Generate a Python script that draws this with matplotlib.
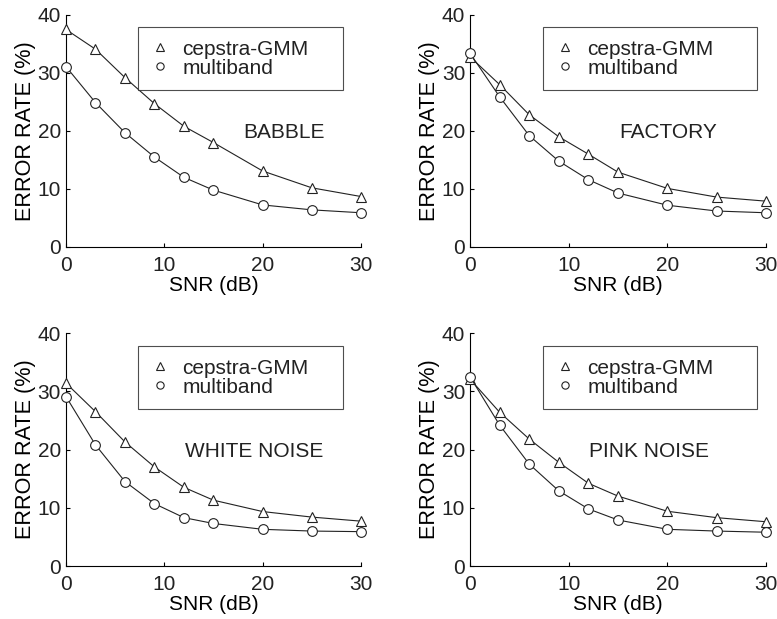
import matplotlib
matplotlib.use('Agg')
import matplotlib.pyplot as plt

# Valores
snr = [0, 3, 6, 9, 12, 15, 20, 25, 30]
babble_gmm = [37.5, 34.1, 29.2, 24.7, 20.8, 18.0, 13.1, 10.2, 8.7]
babble_mb = [31.1, 24.9, 19.7, 15.5, 12.0, 9.8, 7.25, 6.4, 5.9]
factory_gmm = [32.8, 28.0, 22.8, 19.0, 16.0, 12.9, 10.1, 8.6, 7.9]
factory_mb = [33.4, 25.9, 19.2, 14.8, 11.6, 9.3, 7.2, 6.2, 5.9]
white_gmm = [31.4, 26.5, 21.3, 17.0, 13.5, 11.3, 9.35, 8.4, 7.7]
white_mb = [29.1, 20.8, 14.5, 10.7, 8.3, 7.3, 6.3, 6.0, 5.9]
pink_gmm = [32.1, 26.4, 21.8, 17.8, 14.2, 12.0, 9.4, 8.3, 7.6]
pink_mb = [32.5, 24.2, 17.5, 12.9, 9.8, 7.9, 6.3, 6.0, 5.8]

titles = ['BABBLE', 'FACTORY', 'WHITE NOISE', 'PINK NOISE']
series = [(babble_gmm, babble_mb), (factory_gmm, factory_mb),
          (white_gmm, white_mb), (pink_gmm, pink_mb)]
labels = ['cepstra-GMM', 'multiband']
xticks = [0, 10, 20, 30]
yticks = [0, 10, 20, 30, 40]

plt.rcParams['font.family'] = ['Liberation Sans', 'DejaVu Sans']
plt.rcParams['text.color'] = '#222222'

fig = plt.figure(figsize=(7.77, 6.19), dpi=100)

# posições dos eixos (fração da figura)
positions = [
    [0.0849, 0.601, 0.3797, 0.3748],
    [0.6049, 0.601, 0.3810, 0.3748],
    [0.0849, 0.0856, 0.3797, 0.3764],
    [0.6049, 0.0856, 0.3810, 0.3764],
]
legend_box = [(0.244, 0.695), (0.247, 0.723), (0.244, 0.695), (0.247, 0.723)]
legend_top = [0.948, 0.948, 0.944, 0.944]
text_pos = [(22.2, 19.8), (20.1, 19.8), (19.1, 19.7), (18.1, 19.7)]

for i, pos in enumerate(positions):
    ax = fig.add_axes(pos)
    gmm, mb = series[i]
    ax.plot(snr, gmm, color='#222222', lw=0.8, marker='^', ms=7,
            mfc='white', mec='#222222', mew=0.8, label=labels[0],
            clip_on=False, zorder=3)
    ax.plot(snr, mb, color='#222222', lw=0.8, marker='o', ms=7,
            mfc='white', mec='#222222', mew=0.8, label=labels[1],
            clip_on=False, zorder=3)

    ax.set_xlim(0, 30)
    ax.set_ylim(0, 40)
    ax.set_xticks(xticks)
    ax.set_yticks(yticks)
    ax.spines['top'].set_visible(False)
    ax.spines['right'].set_visible(False)
    ax.spines['left'].set_linewidth(0.8)
    ax.spines['bottom'].set_linewidth(0.8)
    ax.tick_params(direction='in', length=3, width=0.8,
                   labelsize=15, labelcolor='#222222')
    ax.tick_params(axis='x', pad=6.5)
    ax.tick_params(axis='y', pad=3.5)
    ax.set_xlabel('SNR (dB)', fontsize=15, labelpad=1)
    ax.set_ylabel('ERROR RATE (%)', fontsize=15.6, labelpad=1)

    x0, w = legend_box[i]
    leg = ax.legend(loc='upper left',
                    bbox_to_anchor=(x0, legend_top[i], w, 0.0),
                    mode='expand', fontsize=15, handlelength=0.92,
                    handletextpad=0.6, borderpad=0.6, labelspacing=0.0,
                    markerscale=0.75, fancybox=False, frameon=True,
                    borderaxespad=0)
    leg.get_frame().set_edgecolor('#222222')
    leg.get_frame().set_linewidth(0.8)
    for h in leg.get_lines():
        h.set_linestyle('none')

    tx, ty = text_pos[i]
    ax.text(tx, ty, titles[i], fontsize=15, ha='center', va='center')

fig.savefig('out.png', dpi=100)
